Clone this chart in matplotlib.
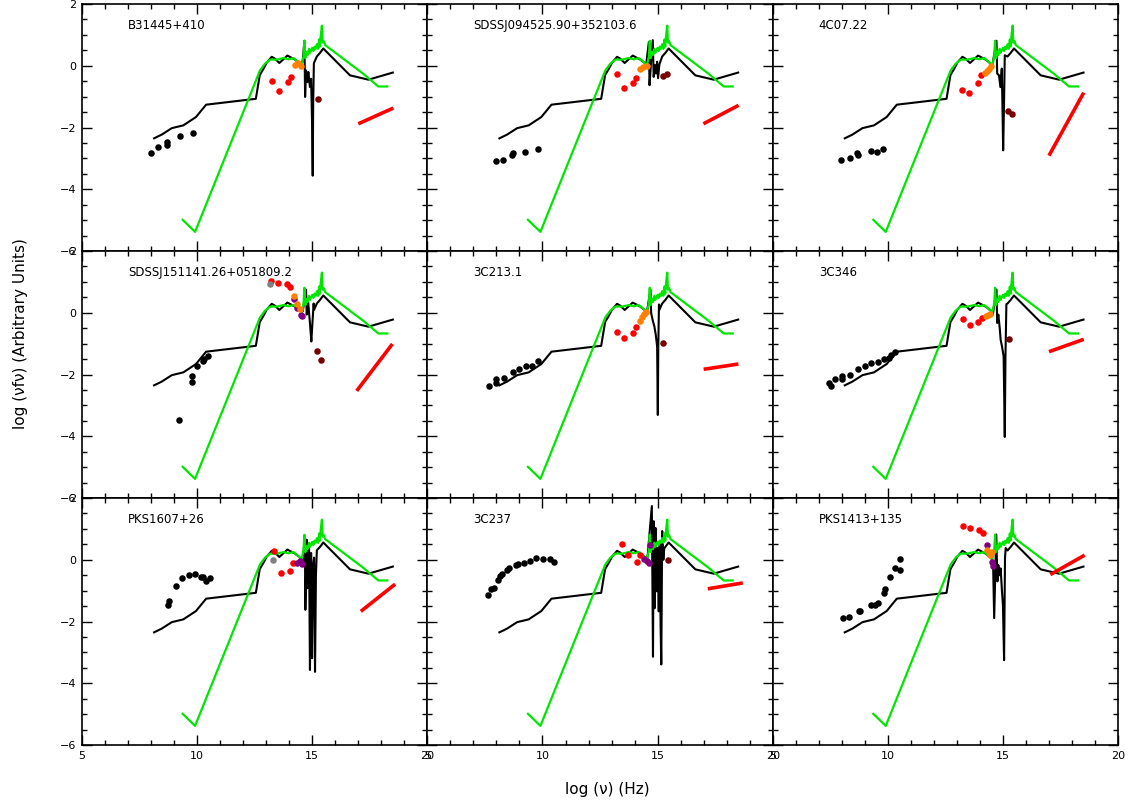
import numpy as np
import matplotlib
matplotlib.use("Agg")
import matplotlib.pyplot as plt
from matplotlib.ticker import MultipleLocator

# ------------------------------------------------------------------
# Source names (row by row)
# ------------------------------------------------------------------
names = ["B31445+410", "SDSSJ094525.90+352103.6", "4C07.22",
         "SDSSJ151141.26+051809.2", "3C213.1", "3C346",
         "PKS1607+26", "3C237", "PKS1413+135"]

# ------------------------------------------------------------------
# Templates shared by all panels (log nu, log nuFnu)
# ------------------------------------------------------------------
tmpl_lo_x = [8.13, 8.46, 8.90, 9.40, 9.95, 10.39, 12.55, 12.72, 12.88, 13.02,
             13.24, 13.38, 13.57, 13.92, 14.25, 14.47]
tmpl_lo_y = [-2.35, -2.23, -2.02, -1.93, -1.66, -1.26, -1.07, -0.30, -0.10, 0.10,
             0.29, 0.23, 0.09, 0.33, 0.20, 0.07]
tmpl_hi_x = [15.08, 15.20, 15.34, 15.48, 16.64, 17.44, 18.50]
tmpl_hi_y = [0.10, 0.30, 0.42, 0.56, -0.31, -0.45, -0.22]

green_x = [9.37, 9.91, 12.73, 12.95, 13.17, 13.46, 13.75, 13.97, 14.18, 14.35,
           14.54, 14.62, 14.66, 14.70, 14.76, 14.80, 14.86, 14.90, 14.95, 15.00,
           15.05, 15.10, 15.15, 15.20, 15.25, 15.30, 15.33, 15.38, 15.42, 15.45,
           15.50, 15.56, 17.20, 17.87, 18.26]
green_y = [-4.99, -5.38, -0.15, 0.07, 0.20, 0.20, 0.25, 0.21, 0.25, 0.15,
           0.02, 0.30, 0.81, 0.25, 0.45, 0.35, 0.55, 0.42, 0.50, 0.58,
           0.48, 0.62, 0.55, 0.70, 0.55, 0.85, 0.62, 1.05, 1.30, 0.75,
           0.80, 0.67, -0.25, -0.67, -0.67]

# ------------------------------------------------------------------
# Per-source optical/UV spectrum (black, noisy part)
# ------------------------------------------------------------------
spec_x = [
    [14.54, 14.59, 14.66, 14.69, 14.73, 14.79, 14.83, 14.90, 14.95, 14.99, 15.02, 15.04, 15.07],
    [14.50, 14.62, 14.65, 14.72, 14.79, 14.83, 14.89, 14.93, 14.98, 15.02, 15.08],
    [14.53, 14.72, 14.75, 14.83, 14.89, 14.95, 14.98, 15.01, 15.05, 15.08],
    [14.59, 14.73, 14.76, 14.82, 14.88, 14.90, 14.96, 14.99, 15.06],
    [14.53, 14.69, 14.72, 14.80, 14.86, 14.92, 14.98, 15.01, 15.03, 15.06],
    [14.56, 14.72, 14.75, 14.80, 14.86, 14.90, 14.96, 15.03, 15.08, 15.11, 15.15],
    [14.58, 14.68, 14.70, 14.76, 14.80, 14.86, 14.90, 14.95, 14.99, 15.03, 15.08, 15.12,
     15.16, 15.20],
    [14.56, 14.75, 14.80, 14.83, 14.87, 14.91, 14.96, 15.00, 15.05, 15.09, 15.13, 15.16,
     15.20, 15.25, 15.29],
    [14.57, 14.62, 14.71, 14.76, 14.80, 14.86, 14.90, 14.96, 15.00, 15.05, 15.09, 15.12],
]
spec_y = [
    [0.05, 0.20, 0.81, -1.01, -0.15, -0.53, -0.20, -0.69, -0.42, -1.77, -3.56, -1.23, 0.07],
    [0.02, 0.77, -0.63, 0.18, 0.83, -0.36, 0.02, -0.25, 0.13, -0.40, 0.05],
    [-0.04, 0.81, -0.25, -0.31, -0.69, -0.09, -1.34, -2.74, -1.12, 0.34],
    [0.05, 0.75, -0.06, 0.37, -0.17, -0.33, -0.93, -0.55, 0.30],
    [-0.01, 0.75, -0.01, -0.28, -0.44, -0.71, -1.09, -3.31, -1.09, 0.27],
    [-0.06, 0.75, -0.33, -0.06, -0.49, -0.87, -1.09, -1.41, -4.02, -1.41, 0.28],
    [-0.10, 0.76, -1.62, 0.65, -0.92, 0.54, -3.57, 0.22, -3.19, -0.20, 0.07, -3.63,
     -0.48, 0.31],
    [0.06, 1.74, -3.14, 1.25, -1.57, 1.03, -1.02, 0.38, -1.67, 0.60, -2.11, -3.39,
     0.93, 0.00, 0.37],
    [-0.05, -1.89, 0.82, -0.70, -0.17, -0.50, -0.28, -1.04, -1.46, -3.25, 0.06, 0.38],
]

# ------------------------------------------------------------------
# Photometry
# ------------------------------------------------------------------
radio_x = [
    [7.98, 8.30, 8.68, 8.71, 9.26, 9.81],
    [7.98, 8.30, 8.69, 8.74, 9.26, 9.79],
    [7.97, 8.36, 8.66, 8.72, 9.26, 9.53, 9.81],
    [9.21, 9.78, 9.78, 10.01, 10.24, 10.30, 10.45],
    [7.69, 7.98, 8.00, 8.35, 8.71, 9.00, 9.27, 9.55, 9.82],
    [7.45, 7.52, 7.72, 7.99, 8.03, 8.35, 8.71, 9.00, 9.28, 9.57, 9.82, 10.05, 10.15, 10.30],
    [8.75, 8.79, 9.08, 9.36, 9.65, 9.91, 10.15, 10.24, 10.39, 10.57],
    [7.65, 7.77, 7.91, 8.06, 8.17, 8.23, 8.46, 8.53, 8.85, 8.92, 9.18, 9.45, 9.73, 10.01,
     10.31, 10.50],
    [8.05, 8.33, 8.74, 8.79, 9.29, 9.43, 9.59, 9.84, 9.87, 10.08, 10.31, 10.52, 10.52],
]
radio_y = [
    [-2.82, -2.62, -2.55, -2.46, -2.28, -2.17],
    [-3.10, -3.05, -2.88, -2.84, -2.78, -2.70],
    [-3.04, -2.98, -2.84, -2.88, -2.77, -2.78, -2.69],
    [-3.47, -2.04, -2.25, -1.74, -1.56, -1.49, -1.41],
    [-2.36, -2.28, -2.15, -2.11, -1.93, -1.82, -1.74, -1.72, -1.56],
    [-2.28, -2.37, -2.15, -2.15, -2.06, -2.01, -1.83, -1.71, -1.63, -1.58, -1.50, -1.45,
     -1.38, -1.28],
    [-1.46, -1.34, -0.84, -0.59, -0.50, -0.46, -0.55, -0.57, -0.70, -0.60],
    [-1.13, -0.94, -0.92, -0.64, -0.53, -0.45, -0.32, -0.27, -0.18, -0.14, -0.11, -0.05,
     0.06, 0.01, 0.01, -0.07],
    [-1.87, -1.84, -1.67, -1.65, -1.46, -1.46, -1.40, -1.06, -0.95, -0.57, -0.27, -0.32, 0.04],
]

ir_x = [
    [13.27, 13.54, 13.93, 14.08],
    [13.25, 13.54, 13.92, 14.08],
    [13.24, 13.53, 13.93, 14.05],
    [13.21, 13.50, 13.89, 14.04],
    [13.24, 13.53, 13.93, 14.06],
    [13.27, 13.56, 13.93, 14.08],
    [13.35, 13.64, 14.03, 14.18],
    [13.44, 13.73, 14.12, 14.25],
    [13.27, 13.59, 13.96, 14.14],
]
ir_y = [
    [-0.48, -0.81, -0.54, -0.35],
    [-0.28, -0.72, -0.56, -0.40],
    [-0.80, -0.89, -0.56, -0.31],
    [1.02, 0.97, 0.94, 0.83],
    [-0.62, -0.83, -0.67, -0.46],
    [-0.20, -0.40, -0.31, -0.16],
    [0.28, -0.44, -0.37, -0.10],
    [0.50, 0.14, -0.06, 0.15],
    [1.09, 1.02, 0.98, 0.86],
]

gray_x = [[], [], [], [13.18], [], [], [13.31], [], []]
gray_y = [[], [], [], [0.93], [], [], [-0.02], [], []]

purple_x = [[], [], [], [14.22, 14.34, 14.50, 14.57], [], [],
            [14.35, 14.47, 14.57], [14.42, 14.54, 14.64, 14.66], [14.30, 14.53, 14.57]]
purple_y = [[], [], [], [0.46, 0.16, -0.06, -0.09], [], [],
            [-0.12, -0.03, -0.14], [0.01, -0.04, -0.12, 0.47], [0.47, -0.08, -0.20]]

orange_x = [[14.25, 14.39, 14.50], [14.24, 14.38, 14.53], [14.21, 14.31, 14.40, 14.50],
            [14.22, 14.34, 14.47], [14.22, 14.32, 14.43, 14.51], [14.25, 14.35, 14.45],
            [], [], [14.31, 14.43, 14.51]]
orange_y = [[0.04, 0.09, 0.00], [-0.12, -0.04, 0.00], [-0.23, -0.17, -0.10, 0.00],
            [0.54, 0.27, 0.12], [-0.28, -0.15, -0.04, 0.03], [-0.11, -0.08, -0.04],
            [], [], [0.32, 0.17, 0.24]]

uv_x = [[15.25], [15.25, 15.41], [15.22, 15.41], [15.21, 15.37], [15.24], [15.25],
        [], [15.46], []]
uv_y = [[-1.09], [-0.34, -0.26], [-1.46, -1.57], [-1.25, -1.53], [-0.97], [-0.85],
        [], [0.00], []]

# X-ray power law: endpoints in log nu and log nuFnu
xray_x0 = [17.00, 16.99, 17.00, 16.93, 17.00, 17.00, 17.11, 17.18, 17.06]
xray_x1 = [18.52, 18.52, 18.51, 18.48, 18.51, 18.51, 18.60, 18.70, 18.55]
xray_y0 = [-1.88, -1.88, -2.91, -2.53, -1.83, -1.26, -1.67, -0.94, -0.48]
xray_y1 = [-1.37, -1.28, -0.87, -1.01, -1.66, -0.86, -0.79, -0.75, 0.15]

# ------------------------------------------------------------------
# Plot
# ------------------------------------------------------------------
plt.rcParams['font.family'] = ['DejaVu Sans']

fig = plt.figure(figsize=(11.33, 8.05), dpi=100)
axes = fig.subplots(3, 3, gridspec_kw=dict(hspace=0, wspace=0, left=0.0724, right=0.9868,
                                           top=0.995, bottom=0.0745))

dot = dict(s=22, linewidths=0, zorder=5)

for i, ax in enumerate(axes.flat):
    row, col = divmod(i, 3)

    # black template with the object's own spectrum spliced in
    sx, sy = spec_x[i], spec_y[i]
    lo = [(x, y) for x, y in zip(tmpl_lo_x, tmpl_lo_y) if x < sx[0]]
    hi = [(x, y) for x, y in zip(tmpl_hi_x, tmpl_hi_y) if x > sx[-1]]
    bx = [p[0] for p in lo] + sx + [p[0] for p in hi]
    by = [p[1] for p in lo] + sy + [p[1] for p in hi]
    ax.plot(bx, by, color='black', lw=1.5, zorder=2)

    ax.plot(green_x, green_y, color='#00e600', lw=1.6, zorder=3)

    ax.scatter(radio_x[i], radio_y[i], color='black', **dot)
    ax.scatter(ir_x[i], ir_y[i], color='#ff0000', **dot)
    ax.scatter(gray_x[i], gray_y[i], color='#808080', **dot)
    ax.scatter(purple_x[i], purple_y[i], color='#800080', **dot)
    ax.scatter(orange_x[i], orange_y[i], color='#ff8000', **dot)
    ax.scatter(uv_x[i], uv_y[i], color='#7a0000', **dot)

    ax.plot([xray_x0[i], xray_x1[i]], [xray_y0[i], xray_y1[i]], color='#ff0000',
            lw=2.6, solid_capstyle='butt', zorder=4)

    ax.text(7.0, 1.32, names[i], fontsize=8.5, ha='left', va='center')

    ax.set_xlim(5, 20)
    ax.set_ylim(-6, 2)
    ax.xaxis.set_major_locator(MultipleLocator(5))
    ax.xaxis.set_minor_locator(MultipleLocator(1))
    ax.yaxis.set_major_locator(MultipleLocator(2))
    ax.yaxis.set_minor_locator(MultipleLocator(0.5))
    ax.tick_params(which='both', direction='in', top=True, right=True, width=1,
                   labelsize=8, pad=4)
    ax.tick_params(which='major', length=7)
    ax.tick_params(which='minor', length=3.5)
    ax.tick_params(labelbottom=(row == 2), labelleft=(col == 0))
    for sp in ax.spines.values():
        sp.set_linewidth(1.2)

fig.text(0.536, 0.019, 'log (ν) (Hz)', ha='center', va='center', fontsize=11)
fig.text(0.018, 0.586, 'log (νfν) (Arbitrary Units)', ha='center', va='center',
         rotation=90, fontsize=11)

fig.savefig('out.png', dpi=100)
